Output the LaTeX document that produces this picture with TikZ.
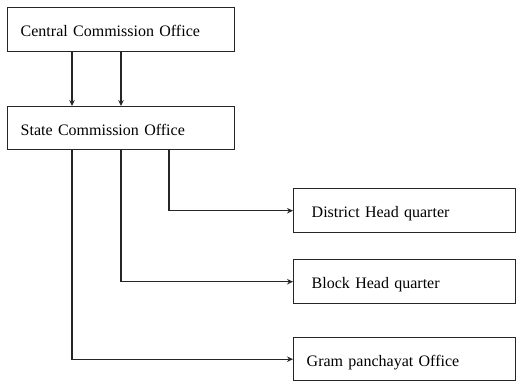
\documentclass[tikz,border=0pt]{standalone}
\usepackage{fontspec}
\setmainfont{Liberation Serif}
\usetikzlibrary{arrows.meta}
\begin{document}
\begin{tikzpicture}[x=1pt,y=-1pt,
  box/.style={draw=black!85, line width=1.4pt, rectangle, anchor=north west,
    inner xsep=0pt, inner ysep=0pt, align=left, text height=14pt, text depth=0pt,
    font=\fontsize{16}{19}\selectfont},
  arr/.style={draw=black!85, line width=1.4pt, -{Stealth[length=6pt,width=5.5pt]}}]
\useasboundingbox (0,0) rectangle (516,381);
\node[box, minimum width=227pt, minimum height=44pt, text width=227pt] (central) at (7,7) {\hspace*{13pt}Central Commission Office};
\node[box, minimum width=227pt, minimum height=43pt, text width=227pt] (state) at (7,106) {\hspace*{13pt}State Commission Office};
\node[box, minimum width=222pt, minimum height=44pt, text width=222pt] (district) at (293,188) {\hspace*{18pt}District Head quarter};
\node[box, minimum width=222pt, minimum height=44pt, text width=222pt] (block) at (293,259) {\hspace*{18pt}Block Head quarter};
\node[box, minimum width=222pt, minimum height=43pt, text width=222pt] (gram) at (293,337) {\hspace*{13pt}Gram panchayat Office};
\draw[arr] (72,0 |- central.south) -- (72,0 |- state.north);
\draw[arr] (121,0 |- central.south) -- (121,0 |- state.north);
\draw[arr] (169,0 |- state.south) |- (district.west);
\draw[arr] (121,0 |- state.south) |- (block.west);
\draw[arr] (72,0 |- state.south) |- (gram.west);
\end{tikzpicture}
\end{document}
